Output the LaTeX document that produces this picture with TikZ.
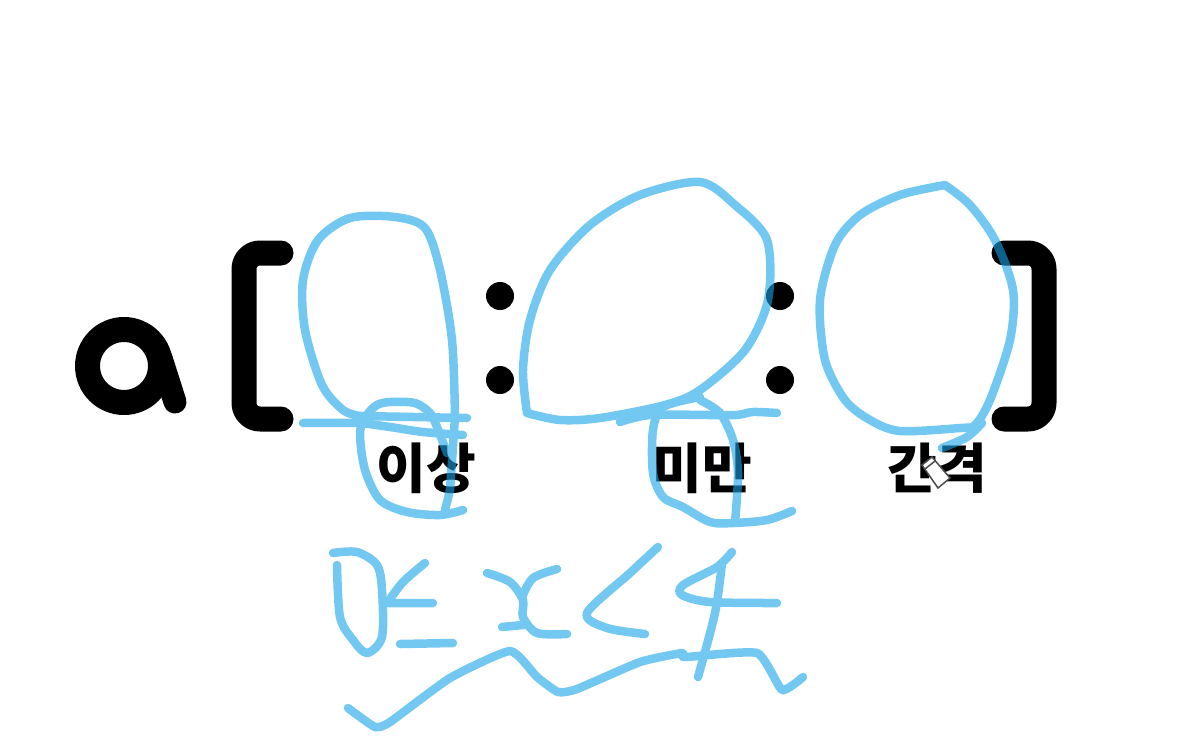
\documentclass[tikz,border=0pt]{standalone}
\usepackage{fontspec}
\newfontfamily\krfont{Noto Sans CJK KR}
\definecolor{penblue}{HTML}{16A3E9}
\tikzset{
    pen/.style={draw=penblue, line width=8.5pt, line cap=round, line join=round},
    ink/.style={draw=black, line width=25pt, line cap=round, line join=round},
    word/.style={font=\krfont\fontsize{54}{54}\selectfont\bfseries, inner sep=0pt}
}
\begin{document}
\begin{tikzpicture}[x=1pt, y=-1pt]
            \useasboundingbox (0,0) rectangle (1193,755);
            
            \node[word] (lowlabel) at (426,468) {이상};
            \node[word] (highlabel) at (702,468) {미만};
            \node[word] (steplabel) at (937,468) {간격};
            
            \draw[ink] (124,366) circle (36.5);
            \draw[ink, line width=23pt] (161,358) -- (175,402);
            \draw[ink, rounded corners=16] (281,253) -- (244,253) -- (244,419) -- (281,419);
            \draw[ink, rounded corners=16] (1004,253) -- (1044,253) -- (1044,419) -- (1004,419);
            \foreach \x/\y in {500/296, 500/380, 780/296, 780/380}
                \fill (\x,\y) circle (14);
            
            \begin{scope}[transparency group, opacity=.6]
            \draw[pen] plot[smooth] coordinates {(360,416) (343,410) (322,385) (305,330) (303,280) (318,240) (350,218) (395,217) (425,228) (440,270) (452,340) (455,417)};
            \draw[pen] (360,416) -- (467,418);
            \draw[pen] plot[smooth] coordinates {(303,423) (357,423) (390,427) (423,432) (463,435)};
            \draw[pen] plot[smooth] coordinates {(463,510) (440,515) (407,512) (380,500) (365,470) (360,433) (367,415) (377,405) (390,402) (415,403) (430,413) (437,427) (447,453)};
            \draw[pen] (455,417) -- (450,490) -- (445,510);
            
            \draw[pen] plot[smooth] coordinates {(527,413) (523,370) (530,320) (550,270) (590,225) (640,195) (700,182) (735,205) (767,240) (768,300) (745,350) (700,390) (665,405) (600,418) (560,420) (527,413)};
            \draw[pen] plot[smooth] coordinates {(620,422) (650,415) (710,415) (737,415) (753,412) (777,413)};
            \draw[pen] plot[smooth] coordinates {(700,397) (663,407) (653,430) (653,473) (663,497) (683,507) (710,522) (733,523) (767,520) (792,511)};
            \draw[pen] plot[smooth] coordinates {(700,400) (720,413) (733,440) (738,473) (735,523)};
            
            \draw[pen] plot[smooth] coordinates {(945,185) (900,195) (860,215) (835,245) (820,300) (825,360) (845,400) (870,420) (900,431) (960,428) (975,425) (990,400) (1010,340) (1013,290) (995,240) (970,205) (945,185)};
            \draw[pen] plot[smooth] coordinates {(982,423) (967,437) (942,448)};
            
            \draw[pen] plot[smooth] coordinates {(333,553) (357,552) (377,565) (382,590) (382,637) (367,653) (353,640) (340,617) (337,565)};
            \draw[pen] plot[smooth] coordinates {(425,563) (403,582) (388,602)};
            \draw[pen] (388,603) -- (433,603);
            \draw[pen] (400,644) -- (453,643);
            
            \draw[pen] plot[smooth] coordinates {(487,573) (510,582) (523,600) (523,617) (537,633) (567,634)};
            \draw[pen] plot[smooth] coordinates {(557,569) (533,578) (522,597)};
            \draw[pen] (502,627) -- (523,625);
            \draw[pen] plot[smooth] coordinates {(658,547) (630,573) (587,613) (607,628) (645,634)};
            
            \draw[pen] plot[smooth] coordinates {(732,552) (717,567) (683,585) (682,595) (710,602) (777,603)};
            \draw[pen] plot[smooth] coordinates {(722,563) (715,613) (698,677)};
            \draw[pen] plot[smooth, tension=.3] coordinates {(348,708) (375,727) (390,722) (450,678) (510,651) (537,677) (558,692) (577,689) (640,662) (682,653) (685,657) (757,653) (782,690) (803,677)};
            \end{scope}
            
            \draw[fill=white, line width=1.5pt, draw=black!70] (922,465) -- (932,457) -- (950,478) -- (938,488) -- cycle;
            \draw[line width=1.5pt, draw=black!70] (925,469) -- (935,461);
    	\end{tikzpicture}
\end{document}
